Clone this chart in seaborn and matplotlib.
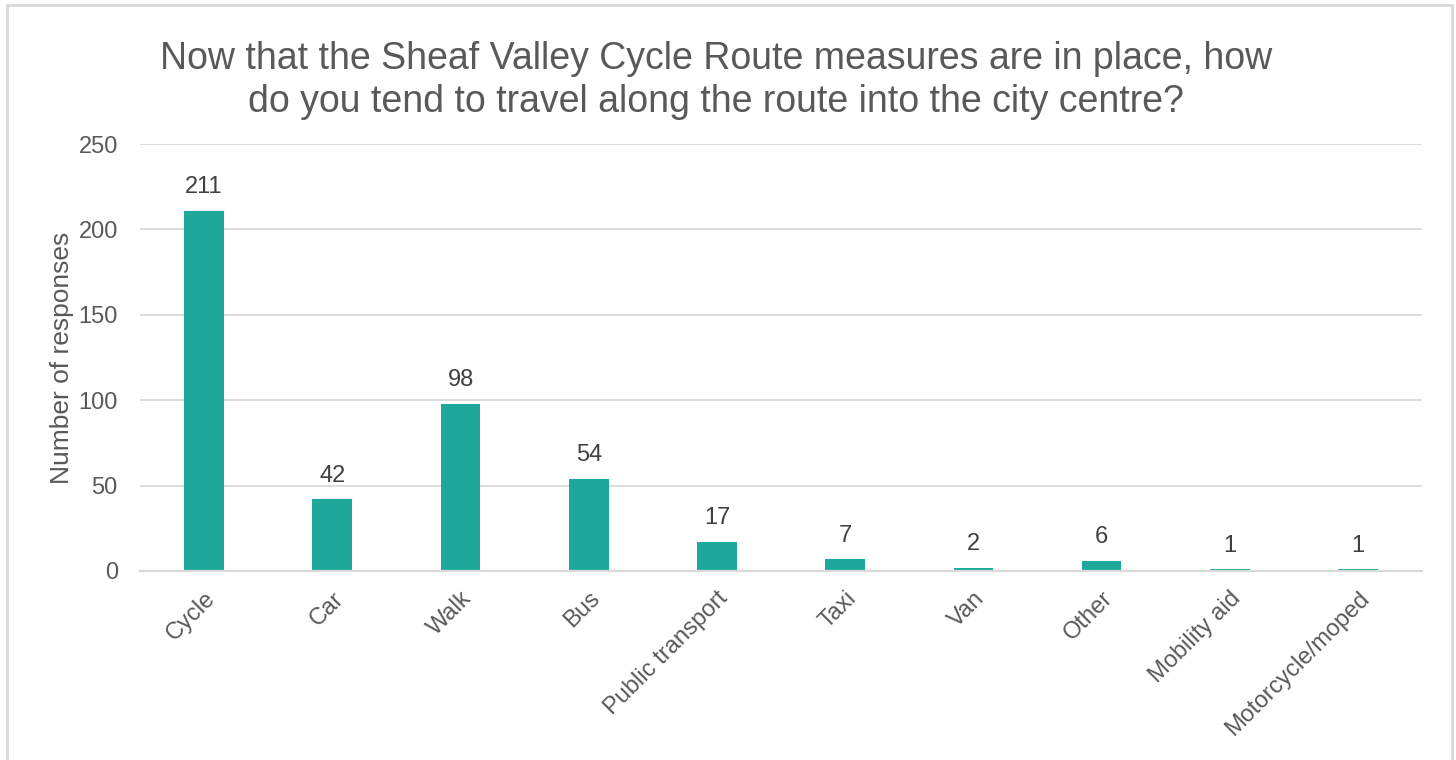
import matplotlib
matplotlib.use('Agg')
import matplotlib.pyplot as plt
import seaborn as sns
import pandas as pd
from matplotlib.patches import Rectangle

# Survey data
modes = ['Cycle', 'Car', 'Walk', 'Bus', 'Public transport', 'Taxi', 'Van',
         'Other', 'Mobility aid', 'Motorcycle/moped']
responses = [211, 42, 98, 54, 17, 7, 2, 6, 1, 1]
y_ticks = [0, 50, 100, 150, 200, 250]

title = ('Now that the Sheaf Valley Cycle Route measures are in place, how\n'
         'do you tend to travel along the route into the city centre?')

sns.set_style('white')
plt.rcParams['font.family'] = ['Liberation Sans', 'DejaVu Sans']

text_grey = '#595959'
grid_grey = '#D9D9D9'
bar_colour = '#1DA89B'

df = pd.DataFrame({'mode': modes, 'responses': responses})

fig = plt.figure(figsize=(14.56, 7.6), dpi=100)
ax = fig.add_axes([0.0962, 0.2487, 0.8805, 0.5618])

sns.barplot(data=df, x='mode', y='responses', color=bar_colour,
            width=0.31, saturation=1, linewidth=0, ax=ax)

ax.set_ylim(0, 250)
ax.set_yticks(y_ticks)
ax.set_xlim(-0.5, len(modes) - 0.5)
ax.yaxis.grid(True, color=grid_grey, linewidth=1.3)
ax.set_axisbelow(True)
for side in ['top', 'right', 'left']:
    ax.spines[side].set_visible(False)
ax.spines['bottom'].set_color(grid_grey)
ax.spines['bottom'].set_linewidth(1.6)
ax.tick_params(axis='both', length=0, labelsize=17, colors=text_grey)
ax.tick_params(axis='y', pad=16)
plt.setp(ax.get_xticklabels(), rotation=45, ha='right',
         rotation_mode='anchor')
ax.tick_params(axis='x', pad=12)

ax.set_xlabel('')
ax.set_ylabel('Number of responses', fontsize=19, color=text_grey, labelpad=3)

ax.bar_label(ax.containers[0], labels=[str(v) for v in responses],
             padding=9, fontsize=17, color='#404040')

fig.text(0.492, 0.894, title, ha='center', va='center', fontsize=27,
         color=text_grey, linespacing=1.25)

# chart border
fig.patches.append(Rectangle((7 / 1456, -0.01), 1445 / 1456, 1 - 5 / 760 + 0.01,
                             transform=fig.transFigure, fill=False,
                             edgecolor=grid_grey, linewidth=2))

fig.savefig('out.png', dpi=100)
